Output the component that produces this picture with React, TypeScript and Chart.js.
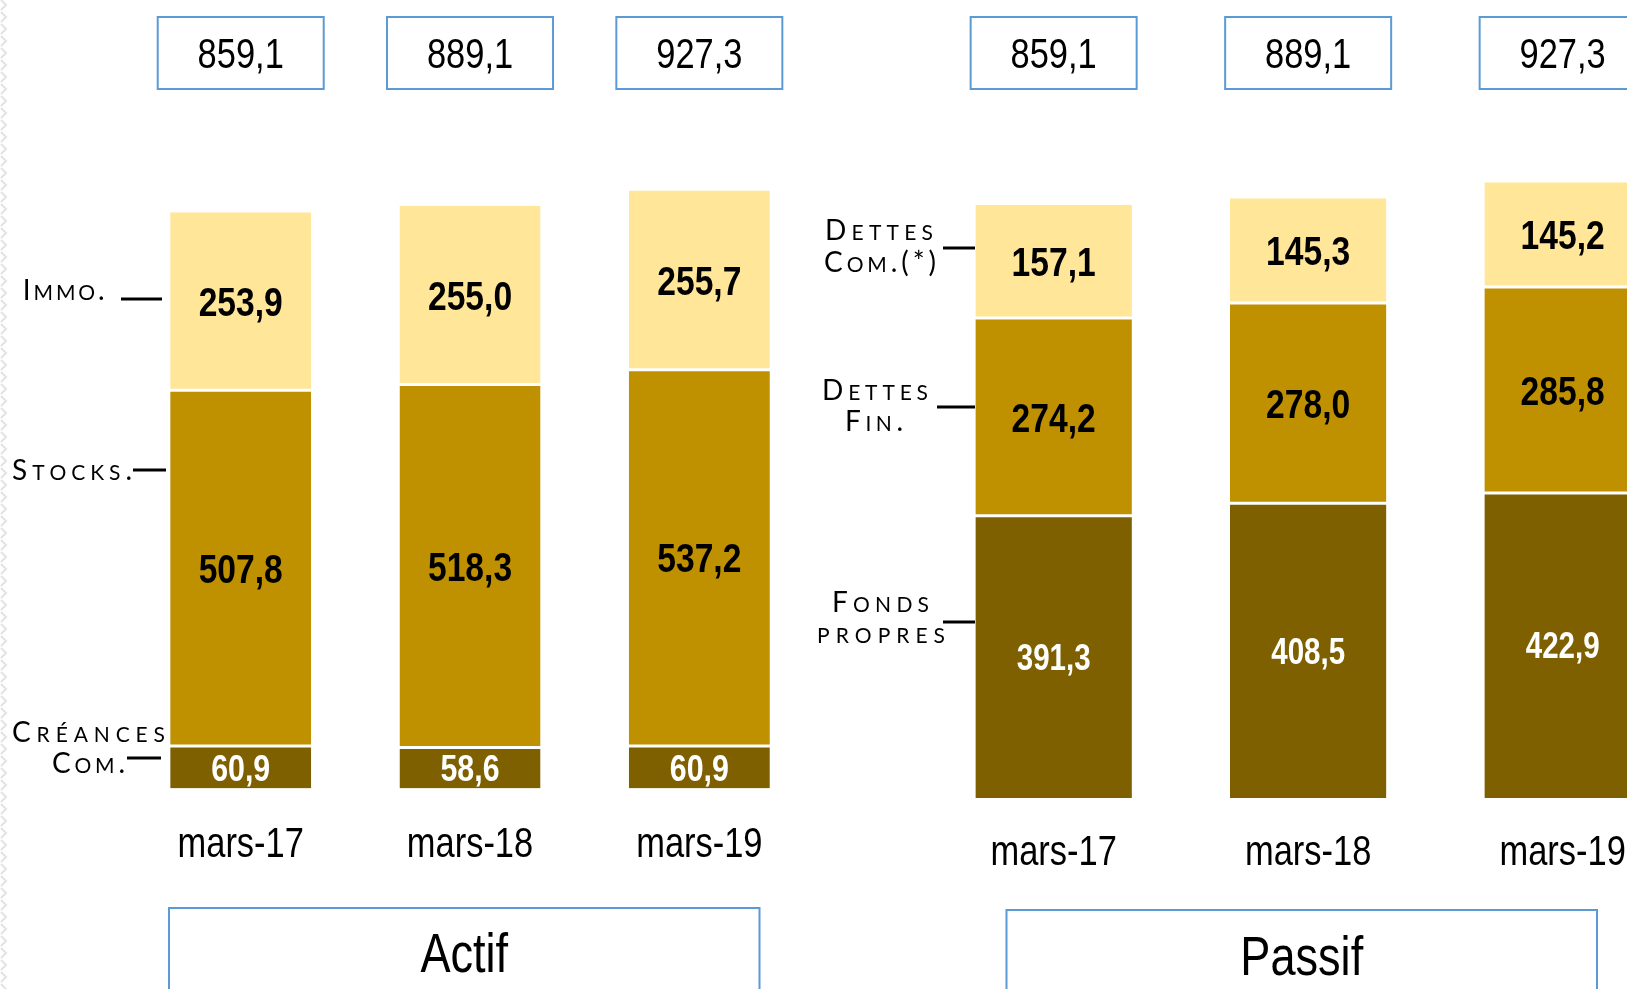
import React, { useEffect, useRef } from 'react';
import { Chart, registerables } from 'chart.js';
Chart.register(...registerables);

// ---------- data ----------
const categories = ['mars-17', 'mars-18', 'mars-19'];
const actifCreances = [60.9, 58.6, 60.9];
const actifStocks = [507.8, 518.3, 537.2];
const actifImmo = [253.9, 255.0, 255.7];
const actifTotals = [859.1, 889.1, 927.3];
const passifFonds = [391.3, 408.5, 422.9];
const passifDettesFin = [274.2, 278.0, 285.8];
const passifDettesCom = [157.1, 145.3, 145.2];
const passifTotals = [859.1, 889.1, 927.3];

const LIGHT = '#FFE699';
const MID = '#BF9000';
const DARK = '#7F6000';
const BLUE = '#5B9BD5';

const fmt = (v: number) => v.toFixed(1).replace('.', ',');

let NARROW: boolean | null = null;
function narrowOK() {
  if (NARROW === null) {
    const c = document.createElement('canvas').getContext('2d')!;
    c.font = '40px monospace';
    const a = c.measureText('mars-17 859,1').width;
    c.font = '40px "Liberation Sans Narrow", monospace';
    const b = c.measureText('mars-17 859,1').width;
    NARROW = Math.abs(a - b) > 0.5;
  }
  return NARROW;
}

function narrowText(ctx: CanvasRenderingContext2D, text: string, x: number, y: number, size: number, bold: boolean, color: string, align: CanvasTextAlign = 'center', sy = 1) {
  ctx.save();
  const w = bold ? 'bold ' : '';
  ctx.fillStyle = color;
  ctx.textBaseline = 'alphabetic';
  ctx.textAlign = align;
  ctx.translate(x, y);
  if (narrowOK()) {
    ctx.font = `${w}${size}px "Liberation Sans Narrow"`;
    ctx.scale(1, sy);
  } else {
    ctx.font = `${w}${size}px "Liberation Sans", Arial, sans-serif`;
    ctx.scale(0.82, sy);
  }
  ctx.fillText(text, 0, 0);
  ctx.restore();
}

function drawSmallCaps(ctx: CanvasRenderingContext2D, text: string, left: number, baseline: number, targetW: number, big = 28, small = 21) {
  const fam = 'Lato, "DejaVu Sans", sans-serif';
  const parts = [...text].map((ch) => {
    const lower = ch !== ch.toUpperCase();
    return { ch: lower ? ch.toUpperCase() : ch, size: lower ? small : big };
  });
  ctx.save();
  ctx.fillStyle = '#000';
  ctx.textBaseline = 'alphabetic';
  ctx.textAlign = 'left';
  const widths = parts.map((p) => {
    ctx.font = `${p.size}px ${fam}`;
    return ctx.measureText(p.ch).width;
  });
  const natural = widths.reduce((a, b) => a + b, 0);
  let spacing = parts.length > 1 ? (targetW - natural) / (parts.length - 1) : 0;
  let sx = 1;
  if (spacing < 0) {
    spacing = 0;
    sx = targetW / natural;
  }
  ctx.translate(left, baseline);
  ctx.scale(sx, 1);
  let x = 0;
  parts.forEach((p, i) => {
    ctx.font = `${p.size}px ${fam}`;
    ctx.fillText(p.ch, x, 0);
    x += widths[i] + spacing;
  });
  ctx.restore();
}

type Annot = { texts: { t: string; left: number; base: number; w: number }[]; line: [number, number, number] };

type PanelSpec = {
  left: number;
  width: number;
  padding: { left: number; right: number; top: number; bottom: number };
  series: { label: string; data: number[]; color: string; textColor: string; size: number }[];
  totals: number[];
  catBaseline: number;
  title: string;
  titleBox: [number, number, number]; // x1, x2, top (page coords)
  titleBaseline: number;
  annots: Annot[];
  edge?: boolean;
};

const actifSpec: PanelSpec = {
  left: 0,
  width: 830,
  padding: { left: 126.05, right: 16, top: 88.1, bottom: 200.4 },
  series: [
    { label: 'Créances Com.', data: actifCreances, color: DARK, textColor: '#fff', size: 37 },
    { label: 'Stocks', data: actifStocks, color: MID, textColor: '#000', size: 41 },
    { label: 'Immo.', data: actifImmo, color: LIGHT, textColor: '#000', size: 41 },
  ],
  totals: actifTotals,
  catBaseline: 857,
  title: 'Actif',
  titleBox: [169, 759.5, 908],
  titleBaseline: 972,
  edge: true,
  annots: [
    { texts: [{ t: 'Immo.', left: 22.7, base: 300, w: 82 }], line: [121, 162, 299] },
    { texts: [{ t: 'Stocks.', left: 12, base: 480, w: 120 }], line: [133, 166, 470] },
    {
      texts: [
        { t: 'Créances', left: 12, base: 742, w: 153 },
        { t: 'Com.', left: 52, base: 773, w: 73 },
      ],
      line: [127, 161, 758],
    },
  ],
};

const passifSpec: PanelSpec = {
  left: 790,
  width: 930,
  padding: { left: 136.4, right: 30.1, top: 76.9, bottom: 191.1 },
  series: [
    { label: 'Fonds propres', data: passifFonds, color: DARK, textColor: '#fff', size: 36 },
    { label: 'Dettes Fin.', data: passifDettesFin, color: MID, textColor: '#000', size: 41 },
    { label: 'Dettes Com.', data: passifDettesCom, color: LIGHT, textColor: '#000', size: 41 },
  ],
  totals: passifTotals,
  catBaseline: 865,
  title: 'Passif',
  titleBox: [1006.5, 1597, 910],
  titleBaseline: 975,
  annots: [
    {
      texts: [
        { t: 'Dettes', left: 825, base: 240, w: 108 },
        { t: 'Com.(*)', left: 824, base: 272, w: 112 },
      ],
      line: [943, 975, 248],
    },
    {
      texts: [
        { t: 'Dettes', left: 822, base: 400, w: 106 },
        { t: 'Fin.', left: 845, base: 431, w: 58 },
      ],
      line: [937, 975, 407],
    },
    {
      texts: [
        { t: 'Fonds', left: 832, base: 612, w: 97 },
        { t: 'propres', left: 817, base: 643, w: 128 },
      ],
      line: [943, 975, 622],
    },
  ],
};

function makeConfig(spec: PanelSpec): any {
  const n = spec.series.length;
  const datasets = spec.series.map((s, d) => ({
    label: s.label,
    data: s.data,
    backgroundColor: s.color,
    borderColor: '#ffffff',
    borderWidth: { top: d === n - 1 ? 0 : 1.5, bottom: d === 0 ? 0 : 1.5, left: 0, right: 0 },
    borderSkipped: false,
    categoryPercentage: 0.615,
    barPercentage: 1,
  }));
  const off = spec.left;
  const deco = {
    id: 'deco',
    afterDatasetsDraw(chart: any) {
      const ctx: CanvasRenderingContext2D = chart.ctx;
      // left decorative edge
      if (spec.edge) {
        ctx.save();
        ctx.strokeStyle = '#e3e3e3';
        ctx.lineWidth = 2;
        for (let y = 0; y < 989; y += 12) {
          ctx.beginPath();
          ctx.moveTo(1, y);
          ctx.lineTo(6, y + 5);
          ctx.lineTo(1, y + 10);
          ctx.stroke();
        }
        ctx.restore();
      }
      // value labels
      spec.series.forEach((s, d) => {
        const meta = chart.getDatasetMeta(d);
        meta.data.forEach((el: any, i: number) => {
          const cy = (el.y + el.base) / 2;
          narrowText(ctx, fmt(s.data[i]), el.x, cy + 0.358 * s.size, s.size, true, s.textColor);
        });
      });
      // totals boxes + category labels
      const xs = chart.scales.x;
      spec.totals.forEach((t, i) => {
        const x = xs.getPixelForValue(i);
        ctx.save();
        ctx.strokeStyle = BLUE;
        ctx.lineWidth = 2;
        ctx.strokeRect(x - 83, 17, 166, 72);
        ctx.restore();
        narrowText(ctx, fmt(t), x, 53 + 0.358 * 42, 42, false, '#000');
      });
      categories.forEach((c, i) => {
        const x = xs.getPixelForValue(i);
        narrowText(ctx, c, x, spec.catBaseline, 42, false, '#000');
      });
      // title box
      const [x1, x2, top] = spec.titleBox;
      ctx.save();
      ctx.strokeStyle = BLUE;
      ctx.lineWidth = 2;
      ctx.strokeRect(x1 - off, top, x2 - x1, 120);
      ctx.restore();
      narrowText(ctx, spec.title, (x1 + x2) / 2 - off, spec.titleBaseline, 55, false, '#000');
      // annotations
      spec.annots.forEach((a) => {
        a.texts.forEach((tt) => drawSmallCaps(ctx, tt.t, tt.left - off, tt.base, tt.w));
        ctx.save();
        ctx.strokeStyle = '#000';
        ctx.lineWidth = 3;
        ctx.beginPath();
        ctx.moveTo(a.line[0] - off, a.line[2]);
        ctx.lineTo(a.line[1] - off, a.line[2]);
        ctx.stroke();
        ctx.restore();
      });
    },
  };
  return {
    type: 'bar',
    data: { labels: categories, datasets },
    options: {
      responsive: false,
      animation: false,
      devicePixelRatio: 1,
      layout: { padding: spec.padding },
      plugins: { legend: { display: false }, tooltip: { enabled: false }, title: { display: false } },
      scales: {
        x: { stacked: true, display: false },
        y: { stacked: true, display: false, min: 0, max: 1000 },
      },
    },
    plugins: [deco],
  };
}

function Panel({ spec }: { spec: PanelSpec }) {
  const ref = useRef<HTMLCanvasElement>(null);
  useEffect(() => {
    const chart = new Chart(ref.current!, makeConfig(spec));
    return () => chart.destroy();
  }, [spec]);
  return (
    <canvas
      ref={ref}
      width={spec.width}
      height={989}
      style={{ position: 'absolute', left: spec.left, top: 0, width: spec.width, height: 989 }}
    />
  );
}

export default function App() {
  return (
    <div
      style={{
        position: 'fixed',
        left: 0,
        top: 0,
        width: 1627,
        height: 989,
        overflow: 'hidden',
        background: '#ffffff',
      }}
    >
      <Panel spec={actifSpec} />
      <Panel spec={passifSpec} />
    </div>
  );
}
